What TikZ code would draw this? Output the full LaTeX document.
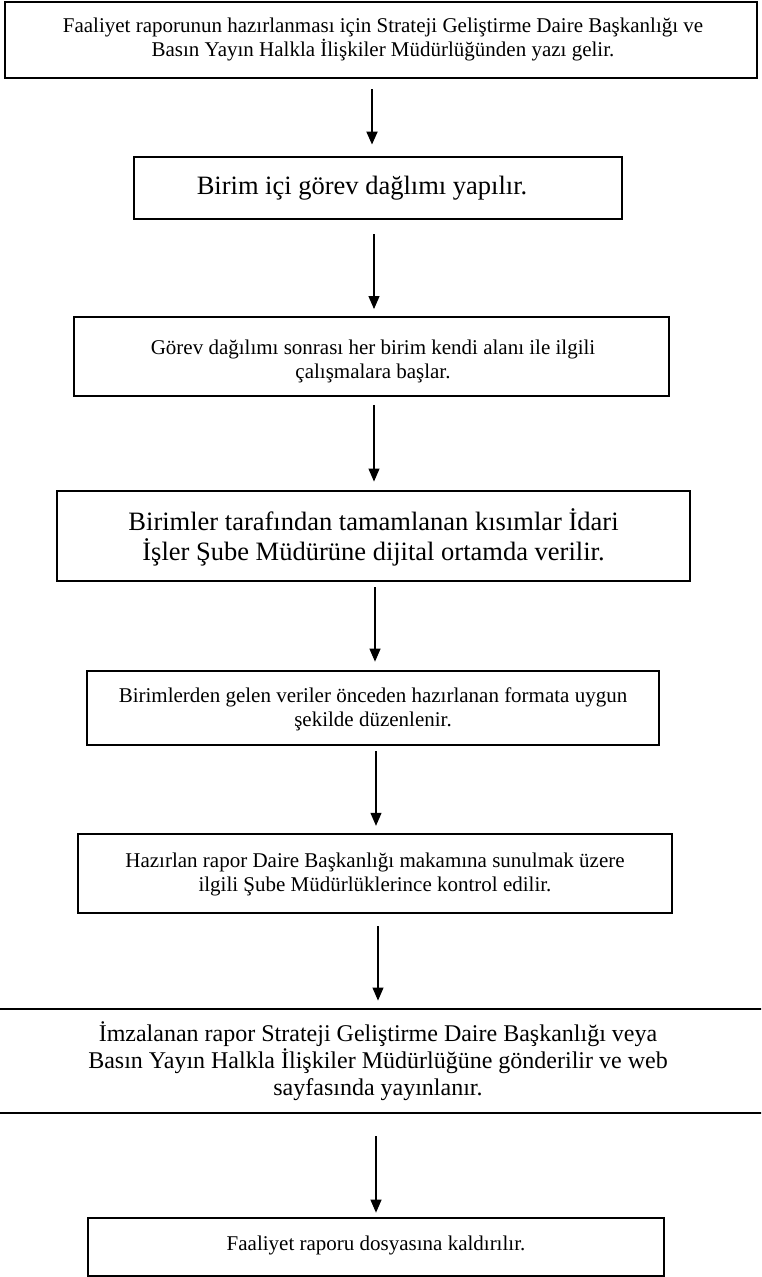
\documentclass[tikz,border=0pt]{standalone}
\usepackage{fontspec}
\setmainfont{Liberation Serif}
\usetikzlibrary{arrows.meta}
\begin{document}
\begin{tikzpicture}[x=1pt,y=-1pt,
  box/.style={draw, line width=#1, inner sep=0pt},
  box/.default=2.4pt,
  txt/.style={align=center, inner sep=0pt},
  small/.style={font=\fontsize{21}{24}\selectfont},
  large/.style={font=\fontsize{26.5}{30}\selectfont},
  medium/.style={font=\fontsize{24}{27}\selectfont},
  arr/.style={-{Triangle[length=13pt,width=11pt]}, line width=1.1pt}]
\path[use as bounding box] (0,0) rectangle (761,1277);
\clip (0,0) rectangle (761,1277);

% boxes
\node[box=2.4pt, minimum width=752pt, minimum height=76pt] (b1) at (381,40) {};
\node[txt, small] (t1) at (383,39) {Faaliyet raporunun hazırlanması için Strateji Geliştirme Daire Başkanlığı ve\\Basın Yayın Halkla İlişkiler Müdürlüğünden yazı gelir.};

\node[box=2.9pt, minimum width=488pt, minimum height=62pt] (b2) at (378,188) {};
\node[txt, large] (t2) at (362,188) {Birim içi görev dağlımı yapılır.};

\node[box=1.9pt, minimum width=595pt, minimum height=79pt] (b3) at (371.5,356.5) {};
\node[txt, small] (t3) at (373,361) {Görev dağılımı sonrası her birim kendi alanı ile ilgili\\çalışmalara başlar.};

\node[box=2.9pt, minimum width=633pt, minimum height=90pt] (b4) at (373.5,536) {};
\node[txt, large] (t4) at (373.5,537) {Birimler tarafından tamamlanan kısımlar İdari\\İşler Şube Müdürüne dijital ortamda verilir.};

\node[box=2.7pt, minimum width=572pt, minimum height=74pt] (b5) at (373,708) {};
\node[txt, small] (t5) at (373,709) {Birimlerden gelen veriler önceden hazırlanan formata uygun\\şekilde düzenlenir.};

\node[box=2.4pt, minimum width=594pt, minimum height=79pt] (b6) at (375,873.5) {};
\node[txt, small] (t6) at (375,874) {Hazırlan rapor Daire Başkanlığı makamına sunulmak üzere\\ilgili Şube Müdürlüklerince kontrol edilir.};

\node[box=2.9pt, minimum width=900pt, minimum height=104pt] (b7) at (380,1061) {};
\node[txt, medium] (t7) at (378,1061) {İmzalanan rapor Strateji Geliştirme Daire Başkanlığı veya\\Basın Yayın Halkla İlişkiler Müdürlüğüne gönderilir ve web\\sayfasında yayınlanır.};

\node[box=2.7pt, minimum width=576pt, minimum height=58pt] (b8) at (376,1247) {};
\node[txt, small] (t8) at (376,1245) {Faaliyet raporu dosyasına kaldırılır.};

% arrow columns
\coordinate (x1) at (372,0);
\coordinate (x2) at (374,0);
\coordinate (x3) at (374,0);
\coordinate (x4) at (375,0);
\coordinate (x5) at (376,0);
\coordinate (x6) at (378,0);
\coordinate (x7) at (376,0);

\draw[arr, line width=2pt, shorten <=10pt, shorten >=11pt] (b1.south -| x1) -- (b2.north -| x1);
\draw[arr, shorten <=14pt, shorten >=7pt] (b2.south -| x2) -- (b3.north -| x2);
\draw[arr, shorten <=8pt, shorten >=8pt] (b3.south -| x3) -- (b4.north -| x3);
\draw[arr, shorten <=5pt, shorten >=8pt] (b4.south -| x4) -- (b5.north -| x4);
\draw[arr, shorten <=5pt, shorten >=7pt] (b5.south -| x5) -- (b6.north -| x5);
\draw[arr, shorten <=12pt, shorten >=7pt] (b6.south -| x6) -- (b7.north -| x6);
\draw[arr, shorten <=22pt, shorten >=4pt] (b7.south -| x7) -- (b8.north -| x7);
\end{tikzpicture}
\end{document}
